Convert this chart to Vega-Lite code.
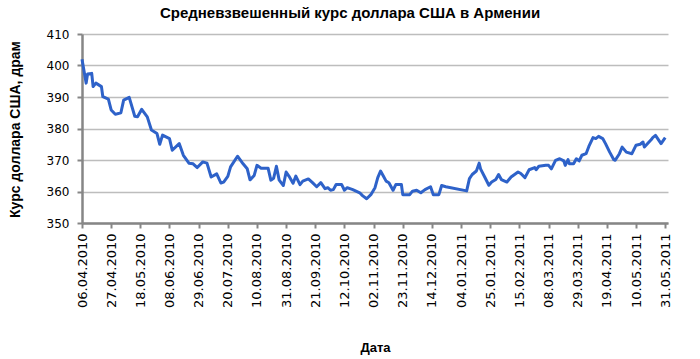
{
  "$schema": "https://vega.github.io/schema/vega-lite/v6.json",
  "width": 586,
  "height": 189,
  "autosize": {"type": "none"},
  "padding": {"left": 82, "top": 34, "right": 32, "bottom": 136},
  "background": "white",
  "title": {
    "text": "Средневзвешенный курс доллара США в Армении",
    "font": "Liberation Sans",
    "fontSize": 15,
    "fontWeight": "bold",
    "color": "#000000",
    "anchor": "middle",
    "dx": -25,
    "offset": 7
  },
  "config": {
    "view": {"stroke": null},
    "axis": {
      "labelFont": "DejaVu Sans",
      "labelFontSize": 12,
      "labelColor": "#000000",
      "titleFont": "Liberation Sans",
      "titleFontSize": 13,
      "titleFontWeight": "bold",
      "titleColor": "#000000",
      "domainColor": "#868686",
      "domainWidth": 2.5,
      "tickColor": "#868686",
      "tickWidth": 2,
      "tickSize": 5
    }
  },
  "data": {
    "values": [
      {"date": "2010-04-06", "v": 402.0},
      {"date": "2010-04-09", "v": 394.4},
      {"date": "2010-04-10", "v": 397.3},
      {"date": "2010-04-13", "v": 397.5},
      {"date": "2010-04-14", "v": 393.3},
      {"date": "2010-04-16", "v": 394.4},
      {"date": "2010-04-20", "v": 393.3},
      {"date": "2010-04-21", "v": 390.1},
      {"date": "2010-04-25", "v": 389.3},
      {"date": "2010-04-27", "v": 385.9},
      {"date": "2010-04-30", "v": 384.5},
      {"date": "2010-05-04", "v": 385.0},
      {"date": "2010-05-06", "v": 389.0},
      {"date": "2010-05-10", "v": 389.9},
      {"date": "2010-05-14", "v": 383.9},
      {"date": "2010-05-16", "v": 383.7},
      {"date": "2010-05-19", "v": 386.1},
      {"date": "2010-05-23", "v": 383.7},
      {"date": "2010-05-26", "v": 379.5},
      {"date": "2010-05-30", "v": 378.4},
      {"date": "2010-06-01", "v": 375.0},
      {"date": "2010-06-03", "v": 377.9},
      {"date": "2010-06-08", "v": 376.8},
      {"date": "2010-06-10", "v": 373.1},
      {"date": "2010-06-15", "v": 375.2},
      {"date": "2010-06-18", "v": 371.5},
      {"date": "2010-06-22", "v": 369.0},
      {"date": "2010-06-25", "v": 368.8},
      {"date": "2010-06-28", "v": 367.6},
      {"date": "2010-07-02", "v": 369.4},
      {"date": "2010-07-05", "v": 369.0},
      {"date": "2010-07-08", "v": 364.6},
      {"date": "2010-07-12", "v": 365.6},
      {"date": "2010-07-15", "v": 362.7},
      {"date": "2010-07-17", "v": 363.0},
      {"date": "2010-07-20", "v": 364.8},
      {"date": "2010-07-22", "v": 367.8},
      {"date": "2010-07-27", "v": 371.2},
      {"date": "2010-07-31", "v": 368.8},
      {"date": "2010-08-03", "v": 367.2},
      {"date": "2010-08-05", "v": 363.7},
      {"date": "2010-08-08", "v": 365.1},
      {"date": "2010-08-10", "v": 368.3},
      {"date": "2010-08-13", "v": 367.4},
      {"date": "2010-08-18", "v": 367.4},
      {"date": "2010-08-20", "v": 363.6},
      {"date": "2010-08-22", "v": 364.2},
      {"date": "2010-08-24", "v": 368.0},
      {"date": "2010-08-26", "v": 363.6},
      {"date": "2010-08-29", "v": 361.9},
      {"date": "2010-08-31", "v": 366.2},
      {"date": "2010-09-02", "v": 364.9},
      {"date": "2010-09-05", "v": 362.6},
      {"date": "2010-09-07", "v": 364.9},
      {"date": "2010-09-10", "v": 362.2},
      {"date": "2010-09-12", "v": 363.3},
      {"date": "2010-09-16", "v": 364.0},
      {"date": "2010-09-19", "v": 362.8},
      {"date": "2010-09-22", "v": 361.5},
      {"date": "2010-09-25", "v": 362.8},
      {"date": "2010-09-28", "v": 360.9},
      {"date": "2010-09-30", "v": 361.2},
      {"date": "2010-10-02", "v": 360.4},
      {"date": "2010-10-04", "v": 360.6},
      {"date": "2010-10-06", "v": 362.2},
      {"date": "2010-10-10", "v": 362.2},
      {"date": "2010-10-12", "v": 360.4},
      {"date": "2010-10-14", "v": 361.2},
      {"date": "2010-10-16", "v": 360.9},
      {"date": "2010-10-18", "v": 360.6},
      {"date": "2010-10-23", "v": 359.6},
      {"date": "2010-10-25", "v": 358.7},
      {"date": "2010-10-28", "v": 357.7},
      {"date": "2010-10-31", "v": 359.0},
      {"date": "2010-11-03", "v": 361.2},
      {"date": "2010-11-05", "v": 364.4},
      {"date": "2010-11-07", "v": 366.5},
      {"date": "2010-11-09", "v": 364.9},
      {"date": "2010-11-11", "v": 363.3},
      {"date": "2010-11-13", "v": 362.8},
      {"date": "2010-11-16", "v": 360.4},
      {"date": "2010-11-18", "v": 362.2},
      {"date": "2010-11-22", "v": 362.2},
      {"date": "2010-11-23", "v": 359.0},
      {"date": "2010-11-28", "v": 359.0},
      {"date": "2010-11-30", "v": 360.1},
      {"date": "2010-12-03", "v": 360.4},
      {"date": "2010-12-06", "v": 359.6},
      {"date": "2010-12-09", "v": 360.6},
      {"date": "2010-12-13", "v": 361.5},
      {"date": "2010-12-15", "v": 359.0},
      {"date": "2010-12-19", "v": 359.0},
      {"date": "2010-12-21", "v": 361.9},
      {"date": "2010-12-24", "v": 361.5},
      {"date": "2011-01-08", "v": 360.2},
      {"date": "2011-01-10", "v": 364.1},
      {"date": "2011-01-12", "v": 365.4},
      {"date": "2011-01-15", "v": 366.5},
      {"date": "2011-01-17", "v": 369.0},
      {"date": "2011-01-18", "v": 367.2},
      {"date": "2011-01-21", "v": 364.6},
      {"date": "2011-01-24", "v": 362.0},
      {"date": "2011-01-26", "v": 363.0},
      {"date": "2011-01-29", "v": 363.8},
      {"date": "2011-01-31", "v": 365.4},
      {"date": "2011-02-02", "v": 363.8},
      {"date": "2011-02-06", "v": 363.0},
      {"date": "2011-02-09", "v": 364.6},
      {"date": "2011-02-14", "v": 366.2},
      {"date": "2011-02-16", "v": 365.7},
      {"date": "2011-02-19", "v": 364.4},
      {"date": "2011-02-22", "v": 366.9},
      {"date": "2011-02-26", "v": 367.6},
      {"date": "2011-02-27", "v": 366.9},
      {"date": "2011-03-01", "v": 368.0},
      {"date": "2011-03-06", "v": 368.3},
      {"date": "2011-03-08", "v": 368.3},
      {"date": "2011-03-10", "v": 367.2},
      {"date": "2011-03-13", "v": 369.9},
      {"date": "2011-03-16", "v": 370.4},
      {"date": "2011-03-19", "v": 369.7},
      {"date": "2011-03-20", "v": 368.3},
      {"date": "2011-03-22", "v": 370.1},
      {"date": "2011-03-23", "v": 368.8},
      {"date": "2011-03-26", "v": 368.8},
      {"date": "2011-03-28", "v": 370.4},
      {"date": "2011-03-30", "v": 369.7},
      {"date": "2011-04-01", "v": 371.5},
      {"date": "2011-04-04", "v": 372.0},
      {"date": "2011-04-06", "v": 374.3},
      {"date": "2011-04-09", "v": 377.1},
      {"date": "2011-04-11", "v": 376.8},
      {"date": "2011-04-13", "v": 377.5},
      {"date": "2011-04-16", "v": 376.8},
      {"date": "2011-04-18", "v": 375.2},
      {"date": "2011-04-21", "v": 372.5},
      {"date": "2011-04-24", "v": 370.1},
      {"date": "2011-04-25", "v": 369.9},
      {"date": "2011-04-28", "v": 372.0},
      {"date": "2011-04-30", "v": 374.1},
      {"date": "2011-05-03", "v": 372.5},
      {"date": "2011-05-07", "v": 372.0},
      {"date": "2011-05-10", "v": 374.7},
      {"date": "2011-05-13", "v": 375.0},
      {"date": "2011-05-15", "v": 375.7},
      {"date": "2011-05-16", "v": 374.1},
      {"date": "2011-05-21", "v": 376.5},
      {"date": "2011-05-22", "v": 377.1},
      {"date": "2011-05-24", "v": 377.8},
      {"date": "2011-05-28", "v": 375.2},
      {"date": "2011-05-31", "v": 377.1}
    ]
  },
  "mark": {"type": "line", "color": "#2E62C9", "strokeWidth": 3, "strokeJoin": "round"},
  "encoding": {
    "x": {
      "field": "date",
      "type": "temporal",
      "scale": {
        "type": "utc",
        "domain": [
          {"year": 2010, "month": 4, "date": 6, "utc": true},
          {"year": 2011, "month": 6, "date": 2, "utc": true}
        ]
      },
      "axis": {
        "title": "Дата",
        "grid": false,
        "format": "%d.%m.%Y",
        "labelAngle": 270,
        "labelAlign": "right",
        "labelBaseline": "middle",
        "labelFontSize": 13,
        "labelPadding": 5,
        "labelOverlap": false,
        "labelFlush": false,
        "titleY": 124,
        "titleBaseline": "middle",
        "values": [
          {"year": 2010, "month": 4, "date": 6, "utc": true},
          {"year": 2010, "month": 4, "date": 27, "utc": true},
          {"year": 2010, "month": 5, "date": 18, "utc": true},
          {"year": 2010, "month": 6, "date": 8, "utc": true},
          {"year": 2010, "month": 6, "date": 29, "utc": true},
          {"year": 2010, "month": 7, "date": 20, "utc": true},
          {"year": 2010, "month": 8, "date": 10, "utc": true},
          {"year": 2010, "month": 8, "date": 31, "utc": true},
          {"year": 2010, "month": 9, "date": 21, "utc": true},
          {"year": 2010, "month": 10, "date": 12, "utc": true},
          {"year": 2010, "month": 11, "date": 2, "utc": true},
          {"year": 2010, "month": 11, "date": 23, "utc": true},
          {"year": 2010, "month": 12, "date": 14, "utc": true},
          {"year": 2011, "month": 1, "date": 4, "utc": true},
          {"year": 2011, "month": 1, "date": 25, "utc": true},
          {"year": 2011, "month": 2, "date": 15, "utc": true},
          {"year": 2011, "month": 3, "date": 8, "utc": true},
          {"year": 2011, "month": 3, "date": 29, "utc": true},
          {"year": 2011, "month": 4, "date": 19, "utc": true},
          {"year": 2011, "month": 5, "date": 10, "utc": true},
          {"year": 2011, "month": 5, "date": 31, "utc": true}
        ]
      }
    },
    "y": {
      "field": "v",
      "type": "quantitative",
      "scale": {"domain": [350, 410], "nice": false, "zero": false},
      "axis": {
        "title": "Курс доллара США, драм",
        "titleFontSize": 14,
        "values": [350, 360, 370, 380, 390, 400, 410],
        "grid": true,
        "gridColor": "#BDBDBD",
        "gridWidth": 1.5,
        "labelPadding": 8,
        "titleX": -67,
        "titleY": 95,
        "titleBaseline": "middle",
        "titleAngle": 270
      }
    }
  }
}
